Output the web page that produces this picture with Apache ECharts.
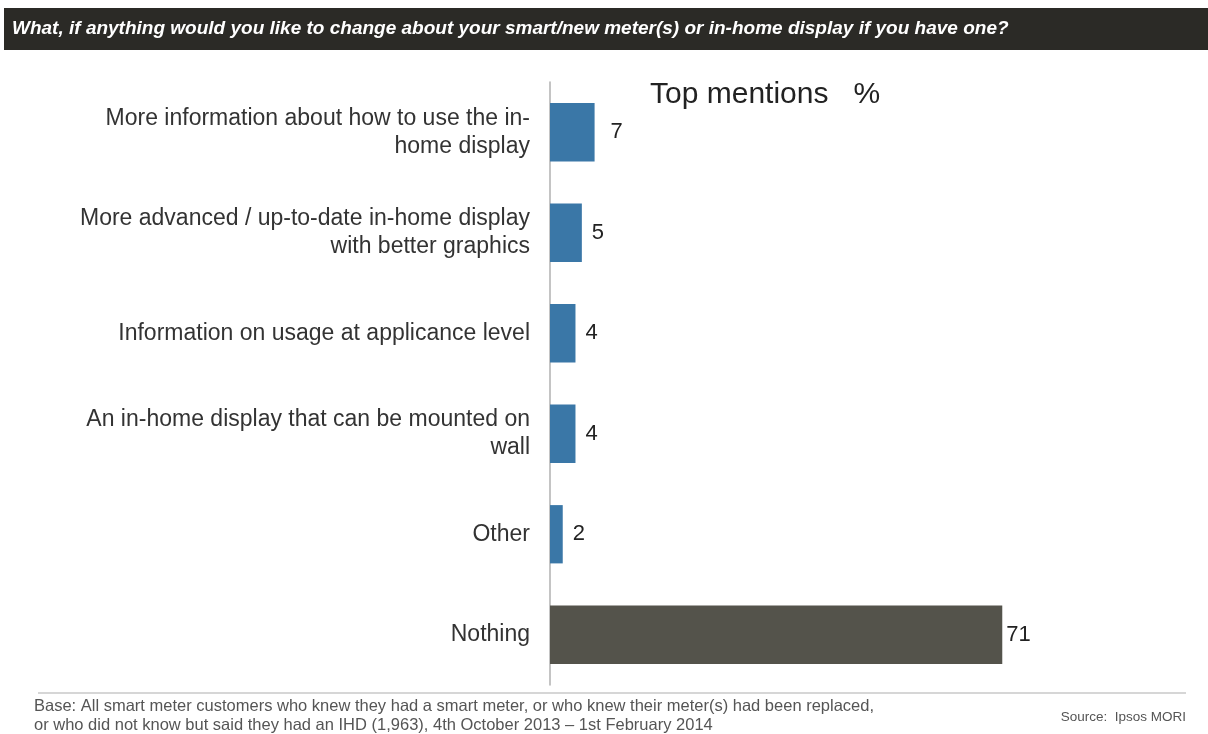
<!DOCTYPE html>
<html>
<head>
<meta charset="utf-8">
<style>
  html, body { margin: 0; padding: 0; background: #fff; }
  #chart { width: 1208px; height: 734px; }
</style>
<script src="https://cdn.jsdelivr.net/npm/echarts@6/dist/echarts.min.js"></script>
</head>
<body>
<div id="chart"></div>
<script>
// Survey answers, top to bottom
const categories = [
  'More information about how to use the in-\nhome display',
  'More advanced / up-to-date in-home display\nwith better graphics',
  'Information on usage at applicance level',
  'An in-home display that can be mounted on\nwall',
  'Other',
  'Nothing'
];
const values = [7, 5, 4, 4, 2, 71];
const barColors = ['#3a77a7', '#3a77a7', '#3a77a7', '#3a77a7', '#3a77a7', '#54534b'];

const questionText = 'What, if anything would you like to change about your smart/new meter(s) or in-home display if you have one?';
const headingText = 'Top mentions   %';
const baseText = 'Base: All smart meter customers who knew they had a smart meter, or who knew their meter(s) had been replaced,\nor who did not know but said they had an IHD (1,963), 4th October 2013 \u2013 1st February 2014';
const sourceText = 'Source:  Ipsos MORI';

const FONT = '"Liberation Sans", Arial, sans-serif';

// gap between a bar's end and its value label
function labelGap(v) {
  if (v >= 50) return 4;
  if (v >= 7) return 16;
  return 10;
}

const chart = echarts.init(document.getElementById('chart'), null, { renderer: 'canvas' });

chart.setOption({
  animation: false,
  textStyle: { fontFamily: FONT },
  grid: { left: 550, top: 82, width: 637, height: 603, containLabel: false },
  xAxis: {
    type: 'value',
    min: 0,
    max: 100,
    show: false
  },
  yAxis: {
    type: 'category',
    data: categories,
    inverse: true,
    axisLine: { show: true, lineStyle: { color: '#b0b0b0', width: 1.5 } },
    axisTick: { show: false },
    axisLabel: {
      color: '#333333',
      fontSize: 23,
      fontFamily: FONT,
      lineHeight: 28,
      align: 'right',
      margin: 20
    }
  },
  series: [{
    type: 'bar',
    data: values.map((v, i) => ({
      value: v,
      itemStyle: { color: barColors[i] },
      label: { distance: labelGap(v) }
    })),
    barCategoryGap: '42%',
    label: {
      show: true,
      position: 'right',
      color: '#222222',
      fontSize: 22,
      fontFamily: FONT
    }
  }],
  graphic: [
    {
      type: 'rect',
      shape: { x: 4, y: 8, width: 1204, height: 42 },
      style: { fill: '#2b2a26' }
    },
    {
      type: 'text',
      x: 12, y: 29,
      style: {
        text: questionText,
        fill: '#ffffff',
        font: 'italic bold 19px ' + FONT,
        verticalAlign: 'middle'
      }
    },
    {
      type: 'text',
      x: 650, y: 95,
      style: {
        text: headingText,
        fill: '#222222',
        font: '30px ' + FONT,
        verticalAlign: 'middle'
      }
    },
    {
      type: 'line',
      shape: { x1: 38, y1: 693, x2: 1186, y2: 693 },
      style: { stroke: '#c8c8c8', lineWidth: 1.5 }
    },
    {
      type: 'text',
      x: 34, y: 697,
      style: {
        text: baseText,
        fill: '#555555',
        font: '16.5px ' + FONT,
        lineHeight: 19,
        verticalAlign: 'top'
      }
    },
    {
      type: 'text',
      x: 1186, y: 717,
      style: {
        text: sourceText,
        fill: '#555555',
        font: '13.5px ' + FONT,
        align: 'right',
        verticalAlign: 'middle'
      }
    }
  ]
});
</script>
</body>
</html>
